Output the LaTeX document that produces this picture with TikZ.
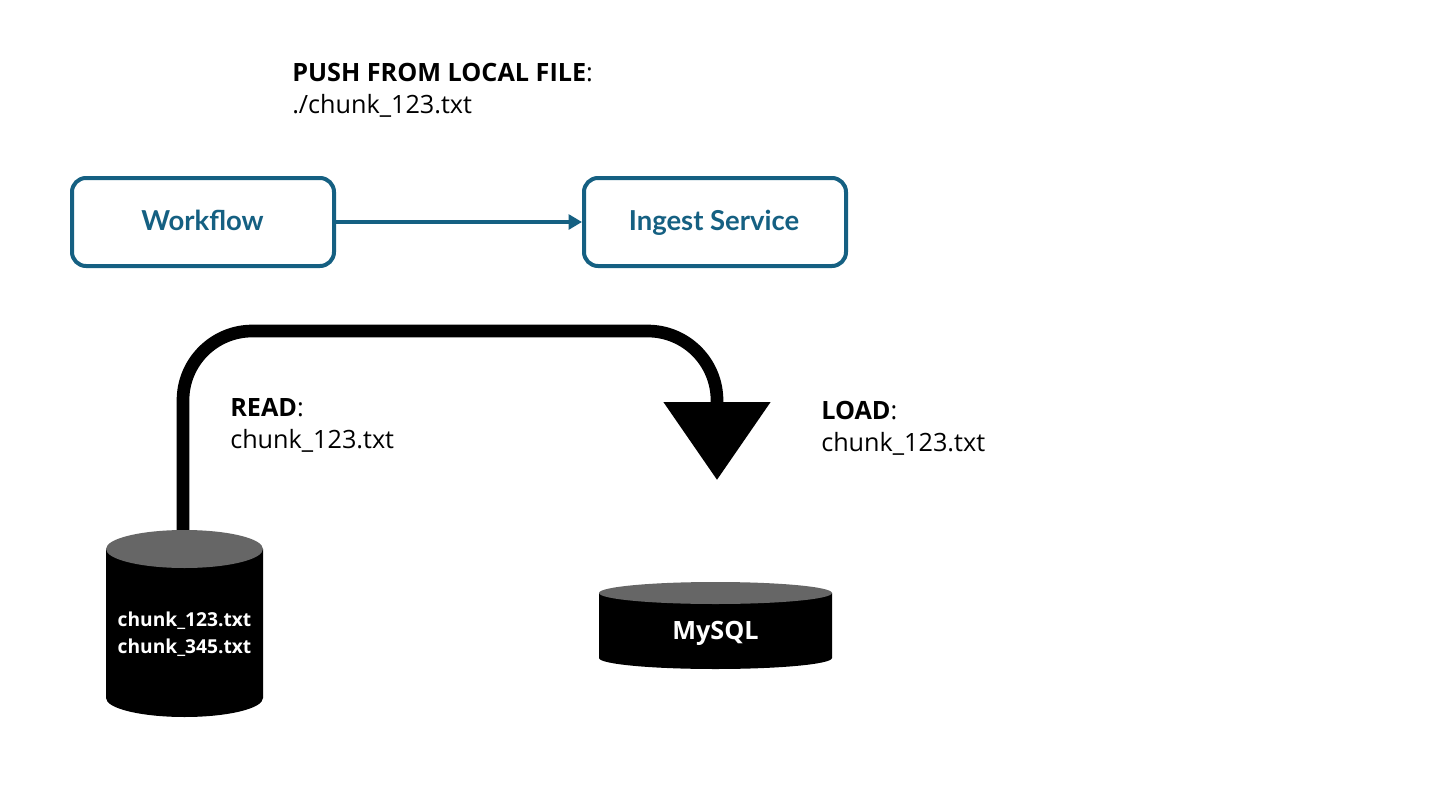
\documentclass[tikz,border=0pt]{standalone}
\usepackage{fontspec}
\setmainfont{Open Sans}
\newfontfamily\wf{Lato}
\usetikzlibrary{arrows.meta}
\definecolor{teal1}{HTML}{156082}
\definecolor{cyltop}{HTML}{666666}
\tikzset{
  x=0.75pt,y=-0.75pt,
  flowbox/.style={draw=teal1,line width=3pt,rounded corners=10.5pt,minimum width=196.5pt,minimum height=66pt,inner sep=0pt},
  boxtxt/.style={text=teal1,inner sep=0pt,font=\wf\bfseries\fontsize{20.6}{24}\selectfont},
  lbl/.style={anchor=north west,align=left,inner sep=0pt,text=black,font=\fontsize{18.9}{24}\selectfont},
  celltxt/.style={text=white,align=center,inner sep=0pt}
}
\newcommand{\dbshape}[6]{% cx, rx, top centre y, bottom centre y, ry, name
  \fill[black] (#1-#2,#3) -- (#1-#2,#4) arc[start angle=180,end angle=360,x radius=#2*0.75pt,y radius=#5*0.75pt] -- (#1+#2,#3) -- cycle;
  \fill[cyltop] (#1,#3) ellipse[x radius=#2*0.75pt,y radius=#5*0.75pt];
  \coordinate (#6) at (#1,#3-#5);
}
\begin{document}
\begin{tikzpicture}
\useasboundingbox (0,0) rectangle (1440,810);
\fill[white] (0,0) rectangle (1440,810);
\node[flowbox] (wf) at (203,222) {};
\node[flowbox] (ing) at (715,222) {};
\node[boxtxt,anchor=base] (wft) at (202.5,230.5) {Workflow};
\node[boxtxt,anchor=base] (ingt) at (714,230.5) {Ingest Service};
\draw[teal1,line width=3pt,-{Triangle[length=10pt,width=11pt]}] (wf.east) -- (ing.west);
\coordinate (tip) at (717,480);
\coordinate (start) at (183,545);
\draw[black,line width=9.5pt,rounded corners=52pt,-{Triangle[length=58.5pt,width=78pt]}] (start) -- (start |- 0,331) -- (tip |- 0,331) -- (tip);
\dbshape{184.5}{78.5}{549}{698}{19}{c1top}
\dbshape{715.5}{116.5}{593}{658}{11}{c2top}
\node[celltxt,font=\bfseries\fontsize{14.4}{20}\selectfont] (t1) at (184.5,634) {chunk\_123.txt\\chunk\_345.txt};
\node[celltxt,font=\bfseries\fontsize{18.9}{22}\selectfont] (t2) at (715.5,633) {MySQL};
\node[lbl] (l1) at (292,63) {\textbf{PUSH FROM LOCAL FILE}:\\./chunk\_123.txt};
\node[lbl] (l2) at (230,398) {\textbf{READ}:\\chunk\_123.txt};
\node[lbl] (l3) at (821,401) {\textbf{LOAD}:\\chunk\_123.txt};
\end{tikzpicture}
\end{document}
